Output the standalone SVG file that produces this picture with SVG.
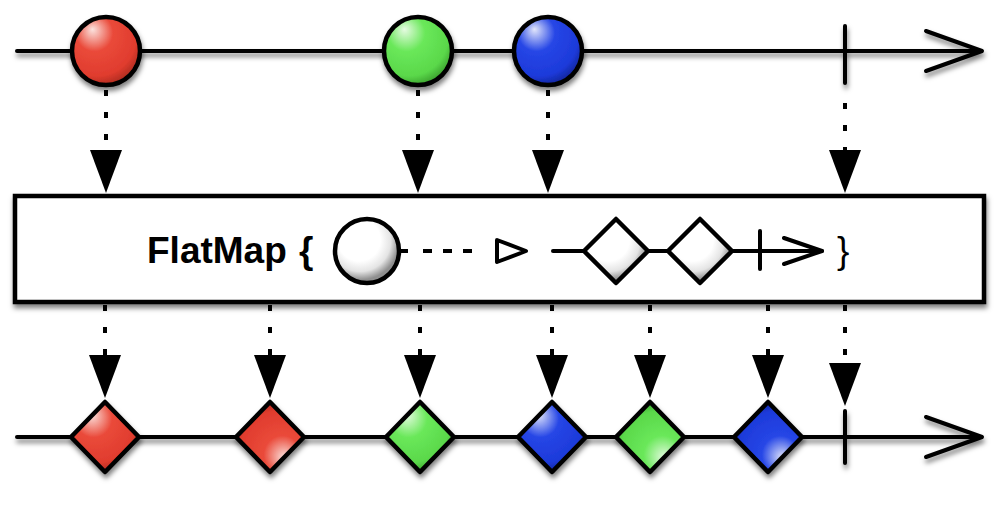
<svg xmlns="http://www.w3.org/2000/svg" width="1000" height="505" viewBox="0 0 1000 505">
<style>
.ln{stroke:#000;stroke-width:4;fill:none;stroke-linecap:round;stroke-linejoin:round}
.sh{filter:url(#shadow)}
.mk{stroke:#000;stroke-width:4.5;stroke-linejoin:round}
.dash{stroke:#000;stroke-width:4;fill:none;stroke-dasharray:6 16;stroke-linecap:butt}
.head{fill:#000;stroke:none}
.t{font-family:"Liberation Sans",Arial,sans-serif;font-size:37px;fill:#000}
</style>
<defs>
<filter id="shadow" x="-20%" y="-30%" width="140%" height="170%">
<feDropShadow dx="1" dy="4" stdDeviation="2.5" flood-color="#000" flood-opacity="0.5"/>
</filter>
<radialGradient id="red" cx="0.38" cy="0.32" r="0.72" fx="0.3" fy="0.18">
<stop offset="0" stop-color="#fbe3df"/><stop offset="0.38" stop-color="#ea4a3a"/><stop offset="0.8" stop-color="#e03c2e"/><stop offset="1" stop-color="#a82a1f"/></radialGradient>
<radialGradient id="redR" cx="0.62" cy="0.68" r="0.72" fx="0.72" fy="0.8">
<stop offset="0" stop-color="#fbe3df"/><stop offset="0.38" stop-color="#ea4a3a"/><stop offset="0.8" stop-color="#e03c2e"/><stop offset="1" stop-color="#a82a1f"/></radialGradient>
<radialGradient id="green" cx="0.38" cy="0.32" r="0.72" fx="0.3" fy="0.18">
<stop offset="0" stop-color="#e6fbe2"/><stop offset="0.38" stop-color="#6ae85a"/><stop offset="0.8" stop-color="#5ad84a"/><stop offset="1" stop-color="#379a2a"/></radialGradient>
<radialGradient id="greenR" cx="0.62" cy="0.68" r="0.72" fx="0.72" fy="0.8">
<stop offset="0" stop-color="#e6fbe2"/><stop offset="0.38" stop-color="#6ae85a"/><stop offset="0.8" stop-color="#5ad84a"/><stop offset="1" stop-color="#379a2a"/></radialGradient>
<radialGradient id="blue" cx="0.38" cy="0.32" r="0.72" fx="0.3" fy="0.18">
<stop offset="0" stop-color="#e2e6fb"/><stop offset="0.38" stop-color="#2646e6"/><stop offset="0.8" stop-color="#1d3ada"/><stop offset="1" stop-color="#0f2394"/></radialGradient>
<radialGradient id="blueR" cx="0.62" cy="0.68" r="0.72" fx="0.72" fy="0.8">
<stop offset="0" stop-color="#e2e6fb"/><stop offset="0.38" stop-color="#2646e6"/><stop offset="0.8" stop-color="#1d3ada"/><stop offset="1" stop-color="#0f2394"/></radialGradient>
<radialGradient id="white" cx="0.4" cy="0.35" r="0.6" fx="0.35" fy="0.3">
<stop offset="0" stop-color="#ffffff"/><stop offset="0.55" stop-color="#ffffff"/><stop offset="0.8" stop-color="#e4e4e4"/><stop offset="1" stop-color="#8f8f8f"/></radialGradient>
<path id="tri" d="M-16,0 L16,0 L0,43 Z"/>
</defs>

<!-- timelines -->
<g id="timeline-top" class="sh">
<line class="ln" x1="17" y1="51" x2="981" y2="51"/>
<polyline class="ln" points="926,31 982,51 926,71"/>
<line class="ln" x1="845" y1="26" x2="845" y2="83"/>
</g>
<g id="timeline-bottom" class="sh">
<line class="ln" x1="17" y1="437" x2="981" y2="437"/>
<polyline class="ln" points="926,417 982,437 926,457"/>
<line class="ln" x1="845" y1="411" x2="845" y2="463"/>
</g>

<!-- connectors -->
<g id="connectors">
<line class="dash" x1="106" y1="90" x2="106" y2="150"/>
<use href="#tri" class="head" x="106" y="150"/>
<line class="dash" x1="418" y1="90" x2="418" y2="150"/>
<use href="#tri" class="head" x="418" y="150"/>
<line class="dash" x1="548" y1="90" x2="548" y2="150"/>
<use href="#tri" class="head" x="548" y="150"/>
<line class="dash" x1="845" y1="103" x2="845" y2="150"/>
<use href="#tri" class="head" x="845" y="150"/>

<line class="dash" x1="105" y1="305" x2="105" y2="355"/>
<use href="#tri" class="head" x="105" y="355"/>
<line class="dash" x1="270" y1="305" x2="270" y2="355"/>
<use href="#tri" class="head" x="270" y="355"/>
<line class="dash" x1="420" y1="305" x2="420" y2="355"/>
<use href="#tri" class="head" x="420" y="355"/>
<line class="dash" x1="552" y1="305" x2="552" y2="355"/>
<use href="#tri" class="head" x="552" y="355"/>
<line class="dash" x1="650" y1="305" x2="650" y2="355"/>
<use href="#tri" class="head" x="650" y="355"/>
<line class="dash" x1="768" y1="305" x2="768" y2="355"/>
<use href="#tri" class="head" x="768" y="355"/>
<line class="dash" x1="845" y1="305" x2="845" y2="363"/>
<use href="#tri" class="head" x="845" y="363"/>
</g>

<!-- top circles -->
<g id="circle-red" class="sh"><circle class="mk" cx="106" cy="51" r="34" fill="url(#red)"/></g>
<g id="circle-green" class="sh"><circle class="mk" cx="418" cy="51" r="34" fill="url(#green)"/></g>
<g id="circle-blue" class="sh"><circle class="mk" cx="548" cy="51" r="34" fill="url(#blue)"/></g>

<!-- operator box -->
<g id="flatmap-box">
<rect class="sh" x="15" y="196" width="969" height="106" fill="#fff" stroke="#000" stroke-width="4.5"/>
<text class="t" x="147" y="263" font-weight="bold">FlatMap</text>
<text class="t" x="299" y="263" font-weight="bold">{</text>
<circle class="mk" cx="367" cy="251" r="32" fill="url(#white)"/>
<line x1="400" y1="251" x2="408" y2="251" stroke="#000" stroke-width="4"/>
<line x1="423" y1="251" x2="482" y2="251" stroke="#000" stroke-width="4" stroke-dasharray="9 11"/>
<polygon points="497,240 526,251 497,262" fill="#fff" stroke="#000" stroke-width="4" stroke-linejoin="round"/>
<line class="ln" x1="553" y1="251" x2="822" y2="251"/>
<polygon class="mk" points="616,219 648,251 616,283 584,251" fill="url(#white)"/>
<polygon class="mk" points="700,219 732,251 700,283 668,251" fill="url(#white)"/>
<line class="ln" x1="760" y1="231" x2="760" y2="269"/>
<polyline class="ln" points="784,238 822,251 784,264"/>
<text class="t" x="837" y="263">}</text>
</g>

<!-- bottom diamonds -->
<g id="diamond-red-1" class="sh"><polygon class="mk" points="105,402 139,437 105,472 71,437" fill="url(#red)"/></g>
<g id="diamond-red-2" class="sh"><polygon class="mk" points="270,402 304,437 270,472 236,437" fill="url(#redR)"/></g>
<g id="diamond-green-1" class="sh"><polygon class="mk" points="420,402 454,437 420,472 386,437" fill="url(#green)"/></g>
<g id="diamond-blue-1" class="sh"><polygon class="mk" points="552,402 586,437 552,472 518,437" fill="url(#blue)"/></g>
<g id="diamond-green-2" class="sh"><polygon class="mk" points="650,402 684,437 650,472 616,437" fill="url(#greenR)"/></g>
<g id="diamond-blue-2" class="sh"><polygon class="mk" points="768,402 802,437 768,472 734,437" fill="url(#blueR)"/></g>
</svg>
